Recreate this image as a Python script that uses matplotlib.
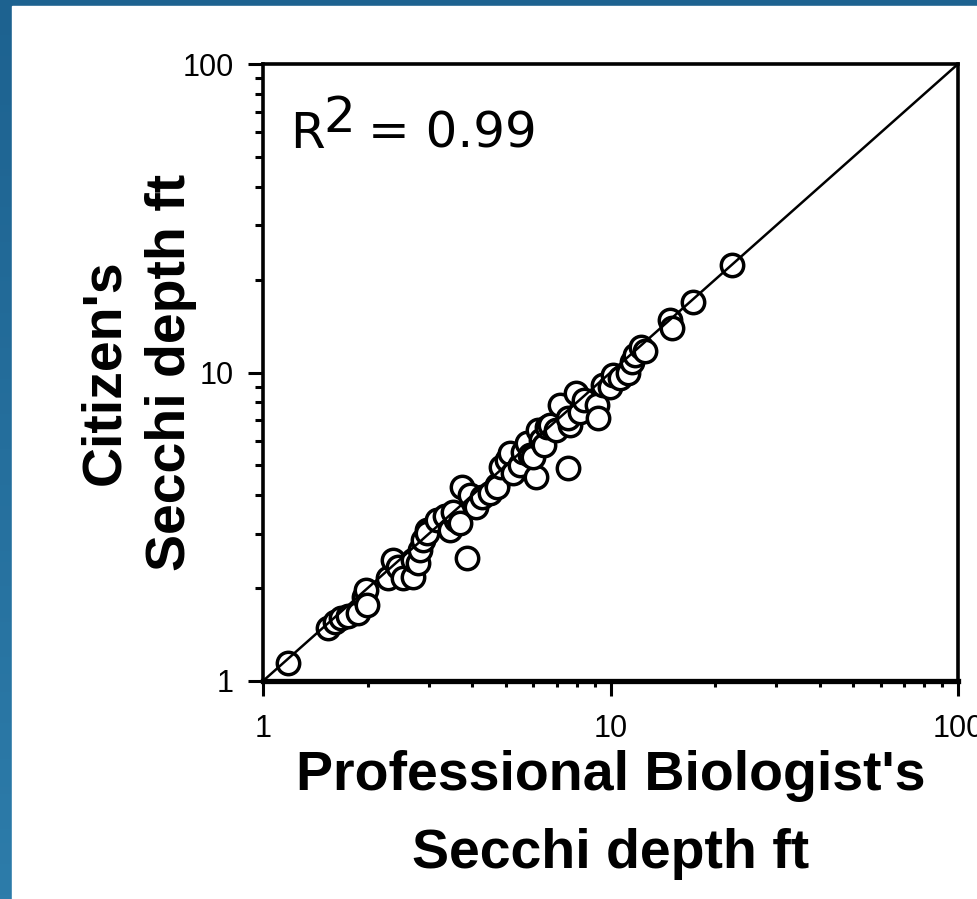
import matplotlib.pyplot as plt
import numpy as np
from matplotlib.patches import Rectangle

# Secchi depth readings (ft), professional vs citizen
prof = [1.18, 1.54, 1.61, 1.68, 1.76, 1.88, 1.95, 1.98, 1.99, 2.29,
        2.37, 2.45, 2.53, 2.70, 2.70, 2.79, 2.83, 2.89, 2.96, 2.96,
        3.17, 3.34, 3.45, 3.59, 3.52, 3.69, 3.74, 3.86, 3.94, 4.10,
        4.27, 4.50, 4.71, 4.71, 4.84, 5.04, 5.14, 5.24, 5.49, 5.60,
        5.75, 5.87, 6.10, 5.98, 6.19, 6.31, 6.44, 6.57, 6.70, 6.97,
        7.16, 7.55, 7.65, 7.55, 7.96, 8.17, 8.39, 9.15, 9.20, 9.51,
        9.97, 10.2, 10.65, 11.2, 11.5, 11.8, 12.2, 12.6, 14.8, 15.0,
        17.3, 22.4]
citizen = [1.14, 1.48, 1.55, 1.60, 1.62, 1.66, 1.87, 1.97, 1.76, 2.16,
           2.47, 2.34, 2.16, 2.17, 2.47, 2.41, 2.66, 2.86, 3.09, 3.02,
           3.33, 3.43, 3.09, 3.33, 3.53, 3.25, 4.25, 2.50, 4.01, 3.66,
           3.95, 4.07, 4.32, 4.25, 4.94, 5.20, 5.48, 4.72, 5.01, 5.53,
           5.91, 5.40, 4.58, 5.32, 6.51, 6.04, 5.82, 6.66, 6.76, 6.51,
           7.85, 4.90, 6.76, 7.12, 8.58, 7.45, 8.15, 7.85, 7.12, 9.11,
           8.97, 9.81, 9.60, 9.96, 10.8, 11.4, 12.1, 11.7, 14.8, 13.9,
           16.9, 22.3]
one_to_one = [1, 100]
ticks = [1, 10, 100]
tick_labels = ['1', '10', '100']

W, H = 977, 899
fig = plt.figure(figsize=(W / 100, H / 100), dpi=100)

# slide background: blue strip left and top
bg = fig.add_axes([0, 0, 1, 1], zorder=-10)
grad = np.linspace(0, 1, 256).reshape(-1, 1)
cmap = plt.matplotlib.colors.LinearSegmentedColormap.from_list('b', ['#1d6290', '#2d7caa'])
bg.imshow(grad, extent=[0, 1, 0, 1], aspect='auto', cmap=cmap, origin='upper')
bg.add_patch(Rectangle((12 / W, 0), 1, 1 - 6 / H, color='white'))
bg.set_xlim(0, 1)
bg.set_ylim(0, 1)
bg.axis('off')

ax = fig.add_axes([263 / W, 1 - 681 / H, 695 / W, 617 / H])
ax.set_xscale('log')
ax.set_yscale('log')
ax.set_xlim(1, 100)
ax.set_ylim(1, 100)

ax.scatter(prof, citizen, s=260, facecolor='white', edgecolor='black',
           linewidth=2.5, zorder=2, clip_on=False)
ax.plot(one_to_one, one_to_one, color='black', lw=1.8, zorder=3)

for s in ['left', 'top', 'right']:
    ax.spines[s].set_linewidth(2.6)
ax.spines['bottom'].set_linewidth(3.8)

ax.set_xticks(ticks, tick_labels)
ax.set_yticks(ticks, tick_labels)
ax.tick_params(which='major', direction='out', length=11, width=2.2,
               labelsize=22, top=False, right=False)
ax.tick_params(axis='y', which='major', pad=10)
ax.tick_params(axis='x', which='major', pad=13)
ax.tick_params(which='minor', direction='out', length=6, width=2.2,
               top=False, right=False, labelleft=False, labelbottom=False)
ax.tick_params(axis='x', which='minor', length=4)
for lab in ax.get_xticklabels() + ax.get_yticklabels():
    lab.set_fontfamily('Liberation Sans')

lbl = dict(fontsize=40, fontweight='bold', family='Liberation Sans')
ax.set_xlabel("Professional Biologist's\nSecchi depth ft", labelpad=4,
              linespacing=1.65, **lbl)
ax.set_ylabel("Citizen's\nSecchi depth ft", linespacing=1.35, **lbl)
ax.yaxis.set_label_coords(-0.095, 0.5)

# R squared annotation, superscript same size as the letter
rfont = dict(fontsize=36, family='DejaVu Sans', va='baseline', ha='left')
fig.text(290 / W, 1 - 148 / H, 'R', **rfont)
fig.text(323 / W, 1 - 132 / H, '2', **rfont)
fig.text(368 / W, 1 - 148 / H, '= 0.99', **rfont)

fig.savefig('out.png', dpi=100)
